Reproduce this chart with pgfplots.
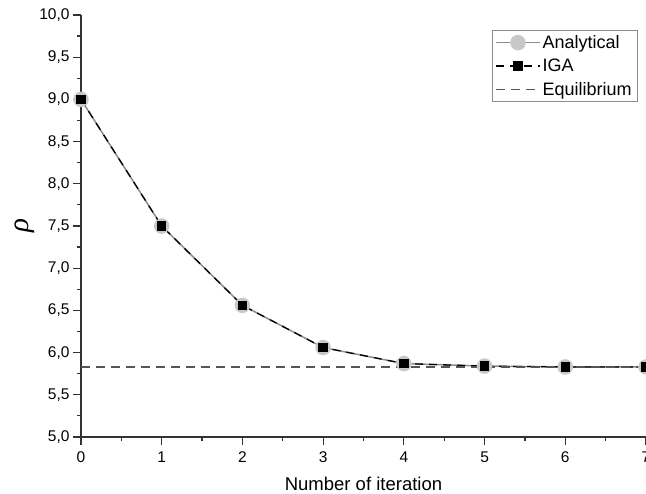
\documentclass[border=0pt]{standalone}
\usepackage{pgfplots}
\pgfplotsset{compat=1.18}
\usepackage{fontspec}
\setmainfont{Liberation Sans}
\newfontfamily\serifrho{Liberation Serif}
\definecolor{anagray}{RGB}{140,140,140}
\definecolor{anamark}{RGB}{200,200,200}
\definecolor{eqgray}{RGB}{85,85,85}
\definecolor{axgray}{RGB}{50,50,50}
\begin{document}
\begin{tikzpicture}[x=1pt,y=1pt]
\useasboundingbox (0,0) rectangle (646,494);
\begin{axis}[
    at={(81pt,57pt)}, anchor=south west,
    scale only axis, width=565pt, height=422pt,
    xmin=0, xmax=7, ymin=5, ymax=10,
    axis lines=left,
    axis line style={axgray, line width=1.6pt, -},
    xtick={0,1,...,7}, ytick={5,5.5,...,10},
    minor x tick num=1, minor y tick num=1,
    tick align=outside,
    major tick length=8pt, minor tick length=4pt,
    tick style={axgray, line width=1.2pt},
    /pgf/number format/assume math mode=true,
    yticklabel style={/pgf/number format/.cd, fixed, fixed zerofill, precision=1, use comma},
    xticklabel style={yshift=-3pt},
    ticklabel style={font=\fontsize{15.5}{18}\selectfont},
    xlabel={Number of iteration},
    xlabel style={yshift=-8pt},
    ylabel={\serifrho\itshape ρ},
    label style={font=\fontsize{18.5}{22}\selectfont},
    ylabel style={font=\fontsize{29}{32}\selectfont, yshift=-2pt},
    legend style={at={(0.984,0.964)}, anchor=north east, draw=anagray,
        font=\fontsize{18}{21}\selectfont, row sep=5pt, inner sep=3pt,
        cells={anchor=west}},
    legend image code/.code={\draw[mark repeat=2,mark phase=2,#1] plot coordinates {(0pt,0pt) (22pt,0pt) (44pt,0pt)};},
]
\addplot[anagray, line width=1.5pt, mark=*, mark size=7pt,
    mark options={solid, fill=anamark, draw=anamark}]
    coordinates {(0,9.0) (1,7.5) (2,6.56) (3,6.06) (4,5.87) (5,5.84) (6,5.83) (7,5.83)};
\addlegendentry{Analytical}
\addplot[black, line width=1.3pt, dash pattern=on 8pt off 6pt, mark=square*, mark size=4pt,
    mark options={solid, fill=black}]
    coordinates {(0,9.0) (1,7.5) (2,6.56) (3,6.06) (4,5.87) (5,5.84) (6,5.83) (7,5.83)};
\addlegendentry{IGA}
\addplot[eqgray, line width=1.5pt, dash pattern=on 9pt off 6pt]
    coordinates {(0,5.83) (7,5.83)};
\addlegendentry{Equilibrium}
\end{axis}
\end{tikzpicture}
\end{document}
